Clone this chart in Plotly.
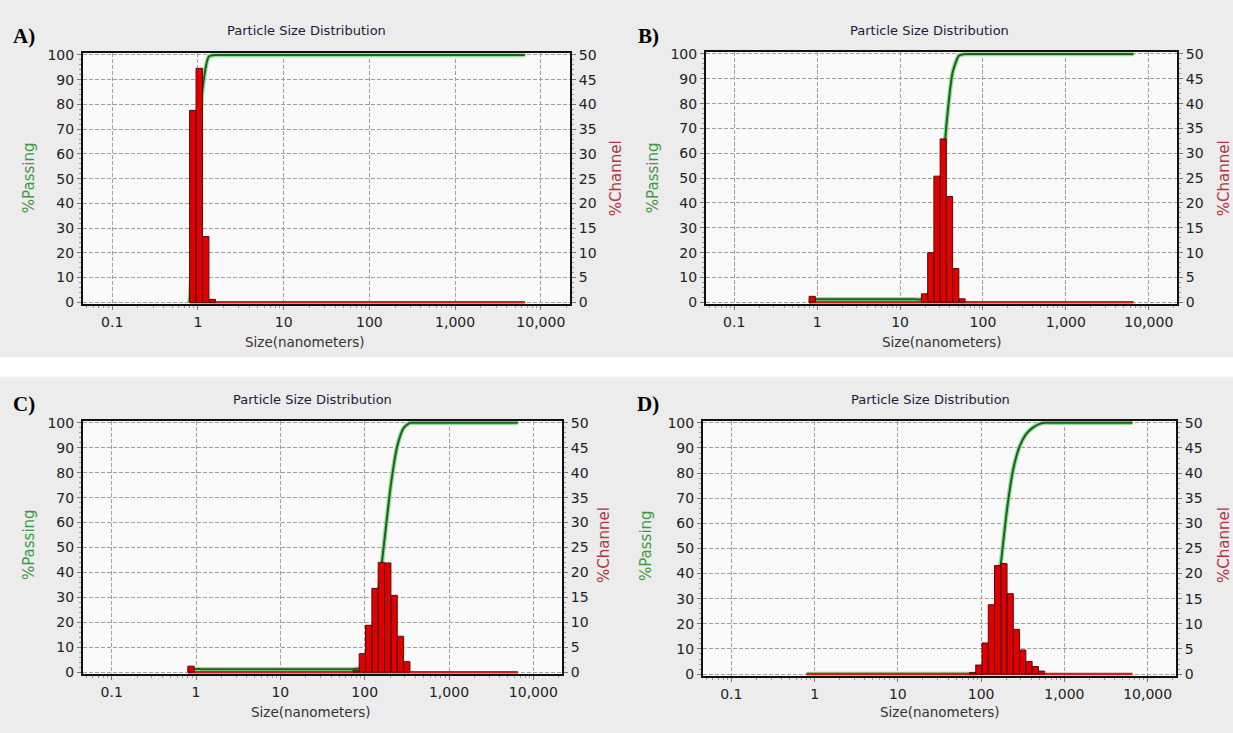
import numpy as np
import plotly.graph_objects as go

W, H = 1233, 733

# Microtrac channel edges (nm)
edges = [0.8, 0.9514, 1.131, 1.345, 1.6, 1.903, 2.263, 2.691, 3.2, 3.805, 4.525, 5.382,
         6.4, 7.611, 9.051, 10.76, 12.8, 15.22, 18.1, 21.53, 25.6, 30.44, 36.2, 43.05,
         51.2, 60.89, 72.41, 86.11, 102.4, 121.8, 144.8, 172.2, 204.8, 243.5, 289.6,
         344.4, 409.6, 487.1, 579.2, 688.8, 819.2, 974.2, 1158, 1378, 1638, 1948, 2317,
         2755, 3277, 3896, 4634, 5510, 6553]

# lower edge of non-empty channels and %channel values
a_sizes = [0.8, 0.9514, 1.131, 1.345]
a_channel = [38.8, 47.3, 13.3, 0.6]

b_sizes = [0.8, 18.1, 21.53, 25.6, 30.44, 36.2, 43.05, 51.2]
b_channel = [1.2, 1.7, 10.0, 25.4, 32.9, 21.3, 6.8, 0.7]

c_sizes = [0.8, 72.41, 86.11, 102.4, 121.8, 144.8, 172.2, 204.8, 243.5, 289.6]
c_channel = [1.2, 0.3, 3.7, 9.4, 16.8, 22.0, 21.9, 15.4, 7.2, 2.1]

d_sizes = [72.41, 86.11, 102.4, 121.8, 144.8, 172.2, 204.8, 243.5, 289.6, 344.4, 409.6, 487.1]
d_channel = [0.3, 1.8, 6.2, 13.8, 21.6, 22.0, 16.0, 8.9, 4.8, 2.5, 1.5, 0.6]

panel_letters = ["A)", "B)", "C)", "D)"]
tick_vals = [0.1, 1, 10, 100, 1000, 10000]
tick_text = ["0.1", "1", "10", "100", "1,000", "10,000"]
title_text = "Particle Size Distribution"
x_title = "Size(nanometers)"

panels = [
    dict(sizes=a_sizes, vals=a_channel, px=(83, 570), py=(48, 303), title_x=306, title_y=25,
         xt_x=305, xt_y=342, pass_x=29, chan_x=616, ylab=175, letter=(24, 30)),
    dict(sizes=b_sizes, vals=b_channel, px=(706, 1177), py=(47, 303), title_x=929, title_y=25,
         xt_x=942, xt_y=342, pass_x=653, chan_x=1224, ylab=175, letter=(648, 30)),
    dict(sizes=c_sizes, vals=c_channel, px=(83, 562), py=(422, 679), title_x=312, title_y=400,
         xt_x=311, xt_y=718, pass_x=29, chan_x=604, ylab=548, letter=(24, 405)),
    dict(sizes=d_sizes, vals=d_channel, px=(703, 1176), py=(422, 681), title_x=930, title_y=400,
         xt_x=940, xt_y=718, pass_x=646, chan_x=1224, ylab=548, letter=(648, 405)),
]

FONT = "DejaVu Sans"
fig = go.Figure()
layout = dict(width=W, height=H, margin=dict(l=0, r=0, t=0, b=0),
              paper_bgcolor="#ececec", plot_bgcolor="#fafafa", showlegend=False,
              font=dict(family=FONT, size=13, color="#333333"))
annotations = []
shapes = [dict(type="rect", xref="paper", yref="paper", x0=0, x1=1,
               y0=1 - 377 / H, y1=1 - 357 / H, fillcolor="white", line=dict(width=0), layer="below")]

minor_x = [m * 10.0 ** k for k in range(-2, 5) for m in range(2, 10)]


def ann(text, x, y, size, color, family=FONT, angle=0):
    return dict(text=text, x=x / W, y=1 - y / H, xref="paper", yref="paper", showarrow=False,
                xanchor="center", yanchor="middle", textangle=angle,
                font=dict(size=size, color=color, family=family))


for i, p in enumerate(panels):
    n = i + 1
    xa = "x" if n == 1 else f"x{n}"
    yl = 2 * i + 1
    yr = 2 * i + 2
    yl_name = "y" if yl == 1 else f"y{yl}"
    yr_name = f"y{yr}"
    xkey = "xaxis" if n == 1 else f"xaxis{n}"
    ylkey = "yaxis" if yl == 1 else f"yaxis{yl}"
    yrkey = f"yaxis{yr}"

    # full channel vector
    full = np.zeros(len(edges) - 1)
    for s, v in zip(p["sizes"], p["vals"]):
        full[edges.index(s)] = v
    passing = np.concatenate([[0.0], np.cumsum(full)])

    # zero-level channel line
    fig.add_trace(go.Scatter(x=[edges[0], edges[-1]], y=[0, 0], xaxis=xa, yaxis=yr_name,
                             mode="lines", line=dict(color="#cc2020", width=2.5), hoverinfo="skip"))
    # bars as polygons
    bx, by = [], []
    for k, v in enumerate(full):
        if v > 0:
            lo, hi = edges[k], edges[k + 1]
            bx += [lo, lo, hi, hi, lo, None]
            by += [0, v, v, 0, 0, None]
    fig.add_trace(go.Scatter(x=bx, y=by, xaxis=xa, yaxis=yr_name, mode="lines", fill="toself",
                             fillcolor="#e00000", line=dict(color="#5a0a0a", width=1), hoverinfo="skip"))
    # passing curve: halo + core
    fig.add_trace(go.Scatter(x=edges, y=passing, xaxis=xa, yaxis=yl_name, mode="lines",
                             line=dict(color="#8fe08f", width=4.5, shape="spline", smoothing=0.6),
                             hoverinfo="skip"))
    fig.add_trace(go.Scatter(x=edges, y=passing, xaxis=xa, yaxis=yl_name, mode="lines",
                             line=dict(color="#1f5f1f", width=2, shape="spline", smoothing=0.6),
                             hoverinfo="skip"))

    xd = [p["px"][0] / W, p["px"][1] / W]
    yd = [1 - p["py"][1] / H, 1 - p["py"][0] / H]
    layout[xkey] = dict(type="log", domain=xd, anchor=yl_name, range=[-1.34, 4.34],
                        tickvals=tick_vals, ticktext=tick_text, ticks="outside", ticklen=4,
                        tickcolor="#777", showgrid=True, gridcolor="#a0a0a0", griddash="4px,2px",
                        gridwidth=1, showline=True, linecolor="#111", linewidth=2, mirror=True,
                        zeroline=False, layer="below traces",
                        minor=dict(tickvals=minor_x, ticks="outside", ticklen=2, tickcolor="#999",
                                   showgrid=False),
                        tickfont=dict(size=14, color="#222"))
    layout[ylkey] = dict(domain=yd, anchor=xa, range=[-0.7, 100.7], tickvals=list(range(0, 101, 10)),
                         ticks="outside", ticklen=4, tickcolor="#777", showgrid=True,
                         gridcolor="#a0a0a0", griddash="4px,2px", gridwidth=1, showline=True,
                         linecolor="#111", linewidth=2, mirror=True, zeroline=False,
                         layer="below traces",
                         minor=dict(dtick=2, ticks="outside", ticklen=2, tickcolor="#999", showgrid=False),
                         tickfont=dict(size=14, color="#222"))
    layout[yrkey] = dict(overlaying=yl_name, anchor=xa, side="right", range=[-0.35, 50.35],
                         tickvals=list(range(0, 51, 5)), ticks="outside", ticklen=4, tickcolor="#777",
                         showgrid=False, showline=True, linecolor="#111", linewidth=2,
                         zeroline=False, layer="below traces",
                         minor=dict(dtick=1, ticks="outside", ticklen=2, tickcolor="#999"),
                         tickfont=dict(size=14, color="#222"))

    annotations += [
        ann(title_text, p["title_x"], p["title_y"], 13, "#1a1a3a"),
        ann(x_title, p["xt_x"], p["xt_y"], 13.5, "#333"),
        ann("%Passing", p["pass_x"], p["ylab"], 15, "#3f9a3f", angle=-90),
        ann("%Channel", p["chan_x"], p["ylab"], 15, "#b03545", angle=-90),
        ann("<b>" + panel_letters[i] + "</b>", p["letter"][0], p["letter"][1], 21, "#000",
            family="Liberation Serif"),
    ]

layout["annotations"] = annotations
layout["shapes"] = shapes
fig.update_layout(**layout)
fig.write_html("out.html", config={"displayModeBar": False},
               post_script="document.body.style.margin='0';document.body.style.overflow='hidden';")
